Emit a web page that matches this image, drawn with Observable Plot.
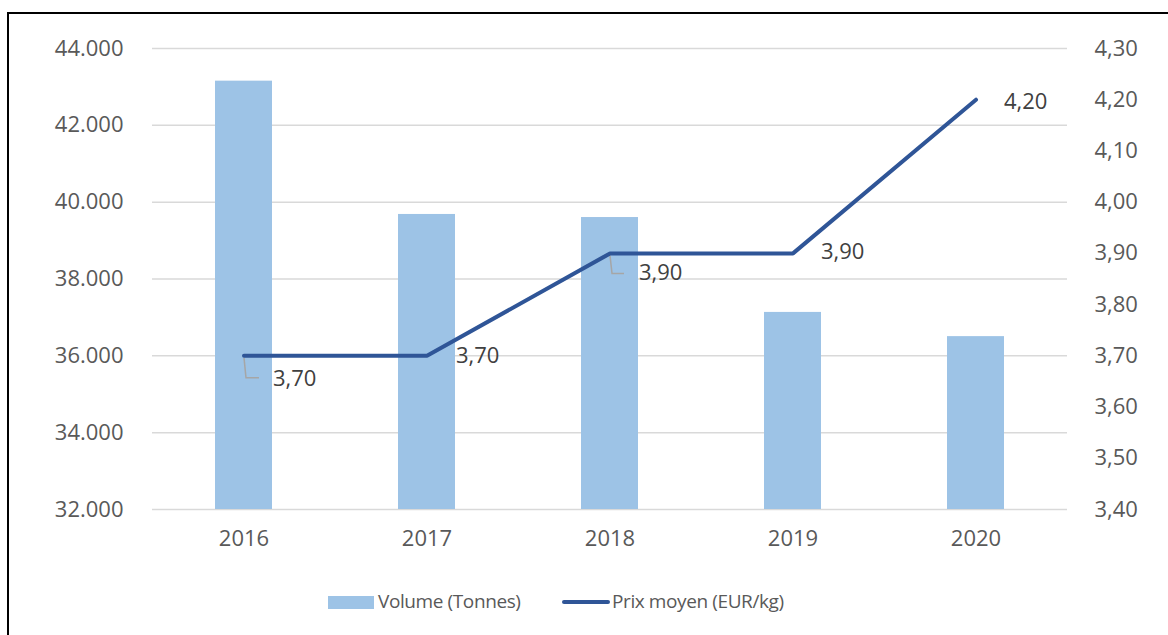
<!DOCTYPE html>
<html>
<head>
<meta charset="utf-8">
<script src="https://cdn.jsdelivr.net/npm/d3@7"></script>
<script src="https://cdn.jsdelivr.net/npm/@observablehq/plot@0.6"></script>
<style>
  html, body { margin: 0; padding: 0; background: #fff; overflow: hidden; }
  #wrap { position: relative; width: 1168px; height: 635px; font-family: "Open Sans", sans-serif; }
  #frame { position: absolute; left: 7px; top: 12px; width: 1200px; height: 700px; border-left: 2.5px solid #000; border-top: 2.5px solid #000; box-sizing: border-box; }
  #chart { position: absolute; left: 0; top: 0; }
  .leg { position: absolute; font-size: 19px; letter-spacing: -0.4px; color: #595959; line-height: 1; white-space: nowrap; }
</style>
</head>
<body>
<div id="wrap">
  <div id="frame"></div>
  <div id="chart"></div>
  <div class="leg" style="left:328px; top:596px; width:46px; height:13px; background:#9DC3E6;"></div>
  <div class="leg" style="left:378px; top:592px;">Volume (Tonnes)</div>
  <div class="leg" style="left:562px; top:600px; width:48px; height:4px; background:#2F5597; border-radius:2px;"></div>
  <div class="leg" style="left:612px; top:592px;">Prix moyen (EUR/kg)</div>
</div>
<script>
// ---- data ----
const years = ["2016", "2017", "2018", "2019", "2020"];
const volumes = [43150, 39680, 39600, 37130, 36500];      // Tonnes (left axis)
const prices = [3.70, 3.70, 3.90, 3.90, 4.20];            // EUR/kg (right axis)
const leftTicks = [32000, 34000, 36000, 38000, 40000, 42000, 44000];
const rightTicks = [3.40, 3.50, 3.60, 3.70, 3.80, 3.90, 4.00, 4.10, 4.20, 4.30];
const leaderYears = ["2016", "2018"];

// label placement (styling, not data)
const labelDx = [29, 29, 29, 28, 28];
const labelDy = [23, 0, 20, -1, 2];

// ---- mapping of right axis onto left axis ----
const leftDomain = [32000, 44000];
const rightDomain = [3.40, 4.30];
const toLeft = p => leftDomain[0] + (p - rightDomain[0]) * (leftDomain[1] - leftDomain[0]) / (rightDomain[1] - rightDomain[0]);

const rows = years.map((y, i) => ({year: y, volume: volumes[i], price: prices[i], yp: toLeft(prices[i]), dx: labelDx[i], dy: labelDy[i]}));

const de = d3.formatLocale({decimal: ",", thousands: ".", grouping: [3], currency: ["", "€"]});
const fmtLeft = de.format(",d");
const fmtPrice = p => p.toFixed(2).replace(".", ",");

function leader(h, w) {
  return { draw(ctx) { ctx.moveTo(0, 2); ctx.lineTo(2, h); ctx.lineTo(w, h); } };
}

const textMarks = rows.map(r => Plot.text([r], {
  x: "year", y: "yp", text: d => fmtPrice(d.price),
  textAnchor: "start", dx: r.dx, dy: r.dy, fill: "#404040", fontSize: 22
}));

const chart = Plot.plot({
  width: 1168,
  height: 575,
  marginLeft: 152,
  marginRight: 101,
  marginTop: 48,
  marginBottom: 66,
  style: {fontFamily: "'Open Sans', sans-serif", fontSize: "22px", color: "#595959", background: "transparent"},
  x: {type: "band", domain: years, paddingInner: 0.6885, paddingOuter: 0.344, label: null},
  y: {domain: leftDomain, label: null},
  marks: [
    Plot.gridY(leftTicks, {stroke: "#d9d9d9", strokeOpacity: 1, strokeWidth: 1.5}),
    Plot.barY(rows, {x: "year", y1: leftDomain[0], y2: "volume", fill: "#9DC3E6"}),
    Plot.axisX({tickSize: 0, tickPadding: 21, fill: "#595959", fontSize: 22}),
    Plot.axisY(leftTicks, {anchor: "left", tickSize: 0, tickPadding: 29, tickFormat: fmtLeft, fill: "#595959", fontSize: 22}),
    Plot.axisY(rightTicks.map(toLeft), {anchor: "right", tickSize: 0, tickPadding: 27, textAnchor: "start",
      tickFormat: v => fmtPrice(rightTicks[rightTicks.findIndex(t => Math.abs(toLeft(t) - v) < 1e-6)]), fill: "#595959", fontSize: 22}),
    Plot.dot(rows.filter(r => r.year === leaderYears[0]), {x: "year", y: "yp", symbol: leader(22, 15), fill: "none", stroke: "#a6a6a6", strokeWidth: 1.5}),
    Plot.dot(rows.filter(r => r.year === leaderYears[1]), {x: "year", y: "yp", symbol: leader(20, 14), fill: "none", stroke: "#a6a6a6", strokeWidth: 1.5}),
    Plot.lineY(rows, {x: "year", y: "yp", stroke: "#2F5597", strokeWidth: 4, strokeLinejoin: "miter", strokeLinecap: "round"}),
    ...textMarks
  ]
});
document.getElementById("chart").appendChild(chart);
</script>
</body>
</html>
